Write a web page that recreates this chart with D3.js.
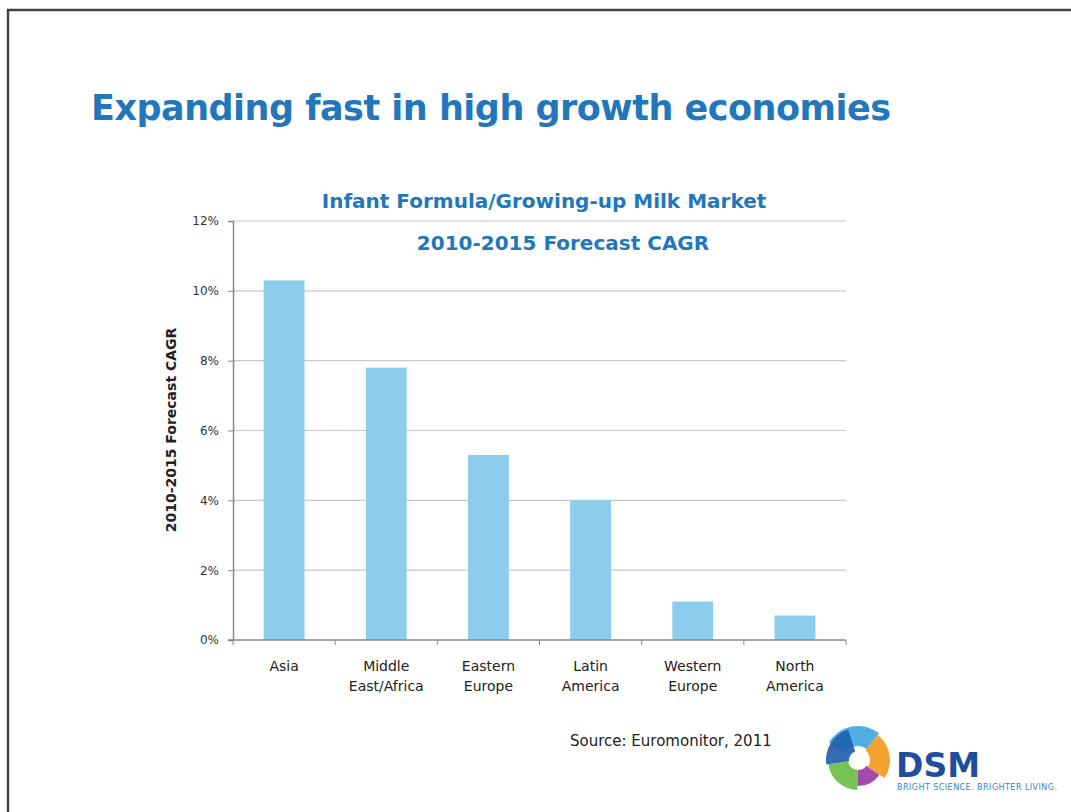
<!DOCTYPE html>
<html>
<head>
<meta charset="utf-8">
<script src="https://cdn.jsdelivr.net/npm/d3@7"></script>
<style>
  body { margin: 0; background: #fff; }
  text { font-family: "DejaVu Sans", Verdana, sans-serif; }
</style>
</head>
<body>
<div id="chart-area"></div>
<script>
// Data
var regions = ["Asia", "Middle East/Africa", "Eastern Europe", "Latin America", "Western Europe", "North America"];
var regionLines = [["Asia"], ["Middle", "East/Africa"], ["Eastern", "Europe"], ["Latin", "America"], ["Western", "Europe"], ["North", "America"]];
var cagr = [10.3, 7.8, 5.3, 4.0, 1.1, 0.7];
var yTicks = [0, 2, 4, 6, 8, 10, 12];

var W = 1071, H = 812;
var margin = { left: 233, right: 225, top: 221, bottom: 172 },
    width = W - margin.left - margin.right,
    height = H - margin.top - margin.bottom;

var blue = "#2277bb";

var svg = d3.select("#chart-area")
    .append("svg")
    .attr("width", W)
    .attr("height", H);

// Slide frame
svg.append("path")
    .attr("d", "M8," + H + " L8,10 L" + W + ",10")
    .attr("fill", "none")
    .attr("stroke", "#444")
    .attr("stroke-width", 2.5);

// Slide title
svg.append("text")
    .attr("x", 91)
    .attr("y", 120)
    .attr("font-size", "35px")
    .attr("font-weight", "bold")
    .attr("fill", blue)
    .attr("textLength", 800)
    .text("Expanding fast in high growth economies");

var g = svg.append("g")
    .attr("transform", "translate(" + margin.left + ", " + margin.top + ")");

// Scales
var x = d3.scaleBand().domain(regions).range([0, width]).paddingInner(0.6).paddingOuter(0.3);
var y = d3.scaleLinear().domain([0, 12]).range([height, 0]);

// Gridlines
g.selectAll(".grid")
    .data(yTicks.slice(1))
    .enter().append("line")
    .attr("class", "grid")
    .attr("x1", 0)
    .attr("x2", width)
    .attr("y1", function(d){ return y(d); })
    .attr("y2", function(d){ return y(d); })
    .attr("stroke", "#c8c8c8")
    .attr("stroke-width", 1.2);

// Bars
g.selectAll(".bar")
    .data(cagr)
    .enter().append("rect")
    .attr("class", "bar")
    .attr("x", function(d, i){ return x(regions[i]); })
    .attr("width", x.bandwidth())
    .attr("y", function(d){ return y(d); })
    .attr("height", function(d){ return height - y(d); })
    .attr("fill", "#8ccdee");

// Y-axis
var yAxis = g.append("g")
    .call(d3.axisLeft(y).tickValues(yTicks).tickSize(5).tickFormat(function(d){ return d + "%"; }));
yAxis.select(".domain").attr("stroke", "#888").attr("stroke-width", 1.5);
yAxis.selectAll(".tick line").attr("stroke", "#888");
yAxis.selectAll("text")
    .attr("x", -14)
    .attr("font-size", "12px")
    .attr("fill", "#333");

// X-axis (ticks at category boundaries)
var xAxis = g.append("g").attr("transform", "translate(0," + height + ")");
xAxis.append("line")
    .attr("x1", -5).attr("x2", width)
    .attr("stroke", "#888").attr("stroke-width", 1.5);
xAxis.selectAll(".bnd")
    .data(d3.range(regions.length + 1))
    .enter().append("line")
    .attr("x1", function(i){ return i * width / regions.length; })
    .attr("x2", function(i){ return i * width / regions.length; })
    .attr("y1", 0).attr("y2", 5)
    .attr("stroke", "#888");

var labels = xAxis.selectAll(".xl")
    .data(regionLines)
    .enter().append("text")
    .attr("text-anchor", "middle")
    .attr("font-size", "14px")
    .attr("fill", "#222")
    .attr("transform", function(d, i){
        return "translate(" + (x(regions[i]) + x.bandwidth() / 2) + ",31)";
    });
labels.selectAll("tspan")
    .data(function(d){ return d; })
    .enter().append("tspan")
    .attr("x", 0)
    .attr("dy", function(d, j){ return j === 0 ? 0 : 20; })
    .text(function(d){ return d; });

// Chart titles
svg.append("text")
    .attr("x", 544).attr("y", 208)
    .attr("text-anchor", "middle")
    .attr("font-size", "20px").attr("font-weight", "bold")
    .attr("fill", blue)
    .text("Infant Formula/Growing-up Milk Market");
svg.append("text")
    .attr("x", 563).attr("y", 250)
    .attr("text-anchor", "middle")
    .attr("font-size", "20px").attr("font-weight", "bold")
    .attr("fill", blue)
    .text("2010-2015 Forecast CAGR");

// Y-axis label
svg.append("text")
    .attr("transform", "translate(176,430) rotate(-90)")
    .attr("text-anchor", "middle")
    .attr("font-size", "14px").attr("font-weight", "bold")
    .attr("fill", "#222")
    .text("2010-2015 Forecast CAGR");

// Source
svg.append("text")
    .attr("x", 570).attr("y", 746)
    .attr("font-size", "15px")
    .attr("fill", "#222")
    .text("Source: Euromonitor, 2011");

// Logo (rough swirl)
var logo = svg.append("g").attr("transform", "translate(858,760)");
var petals = [
    { c: "#3fa9e0", a0: -2.6, a1: -0.9, r0: 14, r1: 34 },
    { c: "#f39a1e", a0: -0.9, a1: 0.6, r0: 12, r1: 32 },
    { c: "#9b3c9e", a0: 0.6, a1: 1.6, r0: 10, r1: 26 },
    { c: "#6abd45", a0: 1.6, a1: 3.0, r0: 10, r1: 30 },
    { c: "#1f5fae", a0: 3.0, a1: 4.4, r0: 9, r1: 32 }
];
petals.forEach(function(p){
    logo.append("path")
        .attr("d", d3.arc().innerRadius(p.r0).outerRadius(p.r1).startAngle(p.a0 + Math.PI / 2).endAngle(p.a1 + Math.PI / 2)())
        .attr("fill", p.c)
        .attr("opacity", 0.92);
});
svg.append("text")
    .attr("x", 896).attr("y", 777)
    .attr("font-size", "33px").attr("font-weight", "bold")
    .attr("fill", "#1f4e9c")
    .text("DSM");
svg.append("text")
    .attr("x", 897).attr("y", 790)
    .attr("font-size", "8px")
    .attr("fill", "#2f86c8")
    .attr("textLength", 160)
    .text("BRIGHT SCIENCE. BRIGHTER LIVING.");
</script>
</body>
</html>
